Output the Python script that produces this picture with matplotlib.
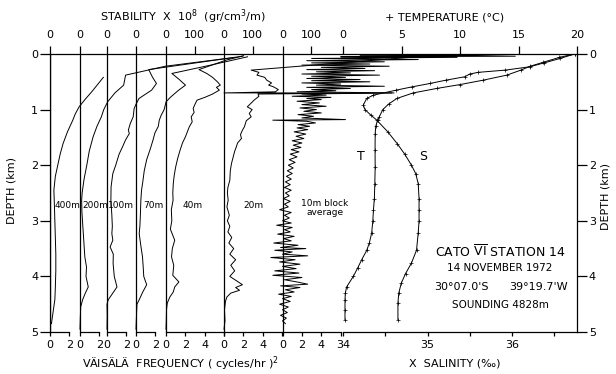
import matplotlib.pyplot as plt

plt.rcParams["font.family"] = "DejaVu Sans"
plt.rcParams["font.size"] = 8
plt.rcParams["mathtext.fontset"] = "dejavusans"
plt.rcParams["axes.linewidth"] = 0.9

# Vaisala frequency N^2 ((cycles/hr)^2) against depth (km), one profile per averaging length
depth_400 = [0.42, 0.55, 0.68, 0.82, 0.95, 1.08, 1.19, 1.4, 1.61, 1.8, 2.0, 2.2, 2.45, 2.7, 3.0,
             3.3, 3.6, 3.9, 4.2, 4.42, 4.6, 4.85]
n2_400 = [5.5, 4.9, 4.3, 3.6, 3.0, 2.6, 2.35, 1.8, 1.35, 1.05, 0.8, 0.55, 0.4, 0.45, 0.5,
          0.55, 0.6, 0.6, 0.55, 0.5, 0.35, 0.15]

depth_200 = [0.06, 0.22, 0.38, 0.56, 0.7, 0.86, 1.0, 1.13, 1.3, 1.49, 1.75, 2.0, 2.25, 2.5, 2.63,
             2.85, 3.04, 3.25, 3.47, 3.65, 3.83, 4.0, 4.19, 4.3, 4.42, 4.55, 4.75, 4.95]
n2_200 = [16.0, 8.8, 4.7, 4.5, 3.6, 2.85, 2.45, 2.2, 1.75, 1.35, 0.95, 0.7, 0.42, 0.22, 0.17,
          0.2, 0.27, 0.35, 0.43, 0.5, 0.67, 0.62, 0.85, 0.55, 0.27, 0.07, 0.03, 0.0]

depth_100 = [0.04, 0.28, 0.42, 0.53, 0.65, 0.8, 0.9, 0.98, 1.13, 1.25, 1.37, 1.43, 1.55, 1.67, 1.8,
             2.0, 2.15, 2.39, 2.63, 2.9, 3.1, 3.23, 3.35, 3.47, 3.6, 3.77, 4.0, 4.19, 4.3, 4.42,
             4.5, 4.7, 4.95]
n2_100 = [14.0, 4.3, 4.7, 5.1, 4.6, 3.3, 3.0, 2.8, 2.7, 2.4, 2.2, 2.3, 1.9, 1.6, 1.25,
          0.9, 0.6, 0.42, 0.4, 0.5, 0.55, 0.5, 0.6, 0.32, 0.65, 0.63, 0.75, 1.03, 0.6, 0.13,
          0.0, 0.02, 0.0]

depth_70 = [0.05, 0.2, 0.35, 0.45, 0.56, 0.65, 0.77, 0.86, 1.0, 1.1, 1.19, 1.3, 1.42, 1.55, 1.72,
            1.9, 2.1, 2.3, 2.45, 2.63, 2.9, 3.1, 3.23, 3.45, 3.65, 3.85, 4.0, 4.15, 4.28, 4.42,
            4.5, 4.7, 4.95]
n2_70 = [11.5, 7.7, 3.7, 4.4, 5.1, 4.4, 3.6, 3.1, 2.9, 2.6, 2.4, 2.3, 1.95, 1.75, 1.45,
         1.1, 0.85, 0.7, 0.57, 0.5, 0.45, 0.4, 0.33, 0.5, 0.67, 0.75, 0.8, 1.1, 0.7, 0.33,
         0.1, 0.05, 0.0]

depth_40 = [0.03, 0.11, 0.28, 0.35, 0.42, 0.5, 0.56, 0.6, 0.65, 0.72, 0.78, 0.83, 0.9, 0.98, 1.05,
            1.13, 1.22, 1.31, 1.4, 1.49, 1.6, 1.73, 1.88, 2.03, 2.18, 2.33, 2.5, 2.63, 2.8, 3.0,
            3.15, 3.35, 3.5, 3.65, 3.8, 3.98, 4.1, 4.19, 4.28, 4.37, 4.48, 4.6, 4.8, 4.95]
n2_40 = [8.0, 6.2, 3.4, 4.2, 4.8, 5.3, 5.6, 5.2, 5.5, 4.8, 4.0, 3.2, 3.0, 2.8, 2.9,
         2.6, 2.7, 2.4, 2.2, 2.0, 1.7, 1.45, 1.2, 1.0, 0.85, 0.75, 0.7, 0.73, 0.55, 0.6,
         0.45, 0.9, 0.65, 0.57, 0.8, 0.7, 1.33, 0.9, 0.75, 0.4, 0.13, 0.05, 0.03, 0.0]

depth_20 = [0.02, 0.29, 0.33, 0.38, 0.42, 0.47, 0.52, 0.56, 0.59, 0.64, 0.68, 0.70, 0.70, 0.72,
            0.76, 0.83, 0.9, 0.95, 1.0, 1.07, 1.13, 1.2, 1.31, 1.37, 1.45, 1.52, 1.6, 1.67, 1.75,
            1.85, 1.97, 2.1, 2.27, 2.4, 2.5, 2.63, 2.75, 2.9, 3.0, 3.1, 3.2, 3.3, 3.4, 3.5, 3.6,
            3.7, 3.8, 3.9, 4.0, 4.08, 4.15, 4.2, 4.25, 4.3, 4.37, 4.45, 4.6, 4.8, 4.95]
n2_20 = [22.0, 2.8, 3.6, 3.4, 4.2, 4.4, 4.9, 4.6, 5.1, 5.6, 5.3, 0.0, 17.3, 3.5,
         3.6, 3.1, 2.7, 2.4, 2.9, 2.6, 2.8, 2.3, 2.1, 1.9, 1.7, 1.8, 1.4, 1.27, 1.1,
         0.95, 0.77, 0.65, 0.6, 0.4, 0.35, 0.43, 0.3, 0.55, 0.35, 0.6, 0.4, 0.8, 0.5, 1.0, 0.6,
         1.2, 0.7, 1.1, 0.6, 1.3, 1.9, 1.2, 1.6, 0.7, 0.3, 0.15, 0.05, 0.1, 0.0]

depth_10 = [0.00, 0.02, 0.03, 0.04, 0.05, 0.06, 0.08, 0.10, 0.12, 0.14, 0.16, 0.18, 0.20, 0.22,
            0.24, 0.26, 0.28, 0.30, 0.32, 0.34, 0.36, 0.38, 0.40, 0.42, 0.44, 0.46, 0.48, 0.50,
            0.52, 0.54, 0.56, 0.58, 0.60, 0.62, 0.64, 0.66, 0.68, 0.70, 0.72, 0.74, 0.76, 0.78,
            0.80, 0.82, 0.85, 0.88, 0.91, 0.94, 0.97, 1.00, 1.03, 1.06, 1.09, 1.12, 1.15, 1.18,
            1.19, 1.21, 1.24, 1.27, 1.30, 1.33, 1.36, 1.40, 1.44, 1.48, 1.52, 1.56, 1.60, 1.64,
            1.68, 1.72, 1.76, 1.80, 1.85, 1.90, 1.95, 2.00, 2.05, 2.10, 2.15, 2.20, 2.25, 2.30,
            2.35, 2.40, 2.45, 2.50, 2.55, 2.60, 2.65, 2.70, 2.75, 2.80, 2.85, 2.90, 2.95, 3.00,
            3.04, 3.08, 3.12, 3.16, 3.20, 3.24, 3.28, 3.32, 3.36, 3.40, 3.44, 3.48, 3.50, 3.53,
            3.56, 3.60, 3.63, 3.66, 3.70, 3.74, 3.78, 3.82, 3.86, 3.90, 3.94, 3.98, 4.02, 4.06,
            4.10, 4.14, 4.17, 4.20, 4.24, 4.28, 4.32, 4.36, 4.40, 4.45, 4.50, 4.55, 4.60, 4.65,
            4.70, 4.75, 4.80, 4.85]
n2_10 = [27.0, 20.0, 8.0, 24.0, 6.0, 18.0, 3.0, 14.0, 2.5, 10.5, 3.0, 9.0, 2.0, 11.0,
         4.0, 8.5, 2.5, 9.5, 3.5, 7.0, 2.0, 10.0, 3.0, 6.5, 2.5, 8.0, 3.0, 9.0,
         2.0, 6.0, 3.5, 10.5, 2.5, 7.0, 3.0, 5.5, 1.5, 11.5, 2.0, 4.5, 1.0, 5.0,
         2.5, 4.0, 1.5, 3.8, 2.0, 4.5, 1.8, 3.5, 2.2, 4.0, 1.6, 3.2, 2.0, 6.5,
         -1.0, 2.5, 3.4, 1.6, 2.8, 1.5, 2.6, 1.2, 2.4, 1.4, 2.2, 1.0, 2.0, 1.1,
         1.9, 0.9, 1.7, 0.8, 1.5, 0.7, 1.3, 0.6, 1.1, 0.5, 1.0, 0.4, 0.9, 0.3,
         0.8, 0.2, 0.9, 0.3, 0.7, 0.1, 0.8, 0.2, 0.6, -0.3, 0.9, 0.2, 0.7, 0.0,
         0.9, -0.6, 1.0, 0.2, 0.8, -0.5, 1.2, 0.1, 0.9, -0.9, 1.6, -0.2, 2.4, -0.8,
         1.0, 0.0, 2.6, -1.2, 1.3, -0.3, 1.8, 0.0, 1.4, -0.8, 1.7, -1.0, 2.0, 0.2,
         1.5, 2.6, -0.2, 1.8, 0.3, 1.2, -0.4, 0.9, 0.0, 0.8, -0.3, 0.6, 0.0, 0.5,
         -0.2, 0.4, 0.0, 0.3]

# temperature (deg C) and salinity (per mille) against depth (km)
temp_depth = [0.0, 0.06, 0.15, 0.22, 0.29, 0.38, 0.47, 0.55, 0.62, 0.7, 0.8, 0.9, 1.0, 1.13, 1.19,
              1.3, 1.43, 1.73, 2.03, 2.33, 2.6, 2.81, 3.0, 3.22, 3.4, 3.53, 3.7, 3.85, 4.0, 4.19,
              4.3, 4.42, 4.6, 4.78]
temp = [19.8, 18.5, 17.1, 16.0, 15.2, 14.0, 12.0, 10.0, 8.0, 6.0, 4.6, 3.9, 3.4, 3.1, 2.95,
        2.8, 2.75, 2.74, 2.75, 2.72, 2.68, 2.6, 2.55, 2.45, 2.25, 2.03, 1.6, 1.25, 0.88, 0.31,
        0.2, 0.17, 0.17, 0.17]
sal_depth = [0.0, 0.08, 0.16, 0.23, 0.29, 0.33, 0.36, 0.41, 0.47, 0.53, 0.59, 0.65, 0.74, 0.8, 0.92,
             1.0, 1.1, 1.19, 1.4, 1.61, 1.8, 2.0, 2.15, 2.33, 2.6, 2.8, 3.0, 3.22, 3.53, 3.76,
             3.95, 4.12, 4.3, 4.48, 4.78]
sal = [36.74, 36.57, 36.38, 36.21, 35.92, 35.6, 35.5, 35.44, 35.22, 35.03, 34.82, 34.63, 34.36, 34.28, 34.24,
       34.26, 34.33, 34.4, 34.53, 34.64, 34.73, 34.81, 34.86, 34.89, 34.9, 34.9, 34.9, 34.89, 34.87, 34.81,
       34.74, 34.69, 34.66, 34.65, 34.65]

panel_names = ["400m", "200m", "100m", "70m", "40m", "20m", "10m"]
panel_depths = [depth_400, depth_200, depth_100, depth_70, depth_40, depth_20, depth_10]
panel_n2 = [n2_400, n2_200, n2_100, n2_70, n2_40, n2_20, n2_10]

# ---- layout, in pixels of the 616x374 figure ----
W, H = 616, 374
left, right, top, bottom = 50, 577, 54, 332
panel_zero = [50, 80, 107, 136, 166, 224, 282.5]
px_n2 = 9.7            # px per (cycles/hr)^2
stab_per_n2 = 100 / 2.94
t_zero, px_deg = 343, 11.7
s_34, px_psu = 343, 84.5


def fx(px):
    return px / W


def fy(py):
    return 1 - py / H


fig = plt.figure(figsize=(W / 100, H / 100), dpi=100)
rect = [fx(left), fy(bottom), (right - left) / W, (bottom - top) / H]

base = fig.add_axes(rect)
base.set_xlim(left, right)
base.set_ylim(5, 0)
base.spines["bottom"].set_visible(False)
base.set_xticks([])
base.set_yticks(range(6))
base.tick_params(axis="y", left=True, right=True, labelleft=True, labelright=True,
                 direction="out", length=7, width=0.9, pad=1.5, labelsize=8)


def panel_axes(x_min, x_max):
    ax = fig.add_axes(rect, sharey=base)
    ax.set_xlim(x_min, x_max)
    ax.patch.set_visible(False)
    for side in ["top", "left", "right", "bottom"]:
        ax.spines[side].set_visible(False)
    ax.tick_params(axis="y", left=False, labelleft=False, right=False, labelright=False)
    ax.tick_params(axis="x", bottom=False, labelbottom=False, top=False, labeltop=False)
    return ax


for i, (name, d, v) in enumerate(zip(panel_names, panel_depths, panel_n2)):
    z = panel_zero[i]
    ax = panel_axes((left - z) / px_n2, (right - z) / px_n2)
    ax.axvline(0, color="k", lw=0.9)
    ax.plot(v, d, color="k", lw=0.7)
    if i < 4:
        bt, bl, tt = [0, 2], ["0", "2"], [0]
    else:
        bt, bl, tt = [0, 2, 4, 6], ["0", "2", "4", ""], [0, 100]
    ax.spines["bottom"].set_visible(True)
    ax.spines["bottom"].set_bounds(0, bt[-1])
    ax.set_xticks(bt, labels=bl)
    ax.tick_params(axis="x", bottom=True, labelbottom=True, direction="out",
                   length=3, width=0.9, pad=3, labelsize=8)
    sec = ax.secondary_xaxis("top", functions=(lambda n: n * stab_per_n2,
                                               lambda s: s / stab_per_n2))
    sec.set_xticks(tt)
    sec.tick_params(direction="out", length=6, width=0.9, pad=4, labelsize=8)
    for sp in sec.spines.values():
        sp.set_visible(False)

# temperature
tax = panel_axes((left - t_zero) / px_deg, (right - t_zero) / px_deg)
tax.plot(temp, temp_depth, color="k", lw=0.7, marker="+", ms=3, mew=0.5)
tax.xaxis.set_ticks_position("top")
tax.set_xticks([0, 5, 10, 15, 20])
tax.tick_params(axis="x", top=True, labeltop=True, direction="out",
                length=6, width=0.9, pad=4, labelsize=8)

# salinity
sax = panel_axes(34 + (left - s_34) / px_psu, 34 + (right - s_34) / px_psu)
sax.plot(sal, sal_depth, color="k", lw=0.7, marker="+", ms=3, mew=0.5)
sax.spines["bottom"].set_visible(True)
sax.spines["bottom"].set_bounds(34, 34 + (right - s_34) / px_psu)
sax.set_xticks([34, 35, 36])
sax.set_xticks([34.5, 35.5, 36.5], minor=True)
sax.tick_params(axis="x", which="both", bottom=True, labelbottom=True, direction="out",
                length=3, width=0.9, pad=3, labelsize=8)

# axis titles
fig.text(fx(183), fy(17), r"STABILITY  X  10$^8$  (gr/cm$^3$/m)", ha="center", va="center", fontsize=8)
fig.text(fx(445), fy(17), "+ TEMPERATURE (°C)", ha="center", va="center", fontsize=8)
fig.text(fx(181), fy(364), r"VÄISÄLÄ  FREQUENCY ( cycles/hr )$^2$", ha="center", va="center", fontsize=8)
fig.text(fx(455), fy(363), "X  SALINITY (‰)", ha="center", va="center", fontsize=8)
fig.text(fx(12), fy(190), "DEPTH (km)", rotation=90, ha="center", va="center", fontsize=8)
fig.text(fx(606), fy(196), "DEPTH (km)", rotation=90, ha="center", va="center", fontsize=8)

# profile labels
label_x = [55, 82, 108, 143, 183, 243]
for name, x in zip(panel_names[:6], label_x):
    fig.text(fx(x), fy(205), name, ha="left", va="center", fontsize=6.5)
fig.text(fx(325), fy(204), "10m block", ha="center", va="center", fontsize=6.5)
fig.text(fx(325), fy(213), "average", ha="center", va="center", fontsize=6.5)
fig.text(fx(361), fy(157), "T", ha="center", va="center", fontsize=9)
fig.text(fx(423), fy(157), "S", ha="center", va="center", fontsize=9)

# station block
fig.text(fx(500), fy(252), r"CATO $\overline{\mathrm{VI}}$ STATION 14", ha="center", va="center", fontsize=9)
fig.text(fx(500), fy(268), "14 NOVEMBER 1972", ha="center", va="center", fontsize=7.5)
fig.text(fx(461), fy(287), "30°07.0'S", ha="center", va="center", fontsize=8)
fig.text(fx(539), fy(287), "39°19.7'W", ha="center", va="center", fontsize=8)
fig.text(fx(500), fy(305), "SOUNDING 4828m", ha="center", va="center", fontsize=7.5)

fig.savefig("out.png", dpi=100)
